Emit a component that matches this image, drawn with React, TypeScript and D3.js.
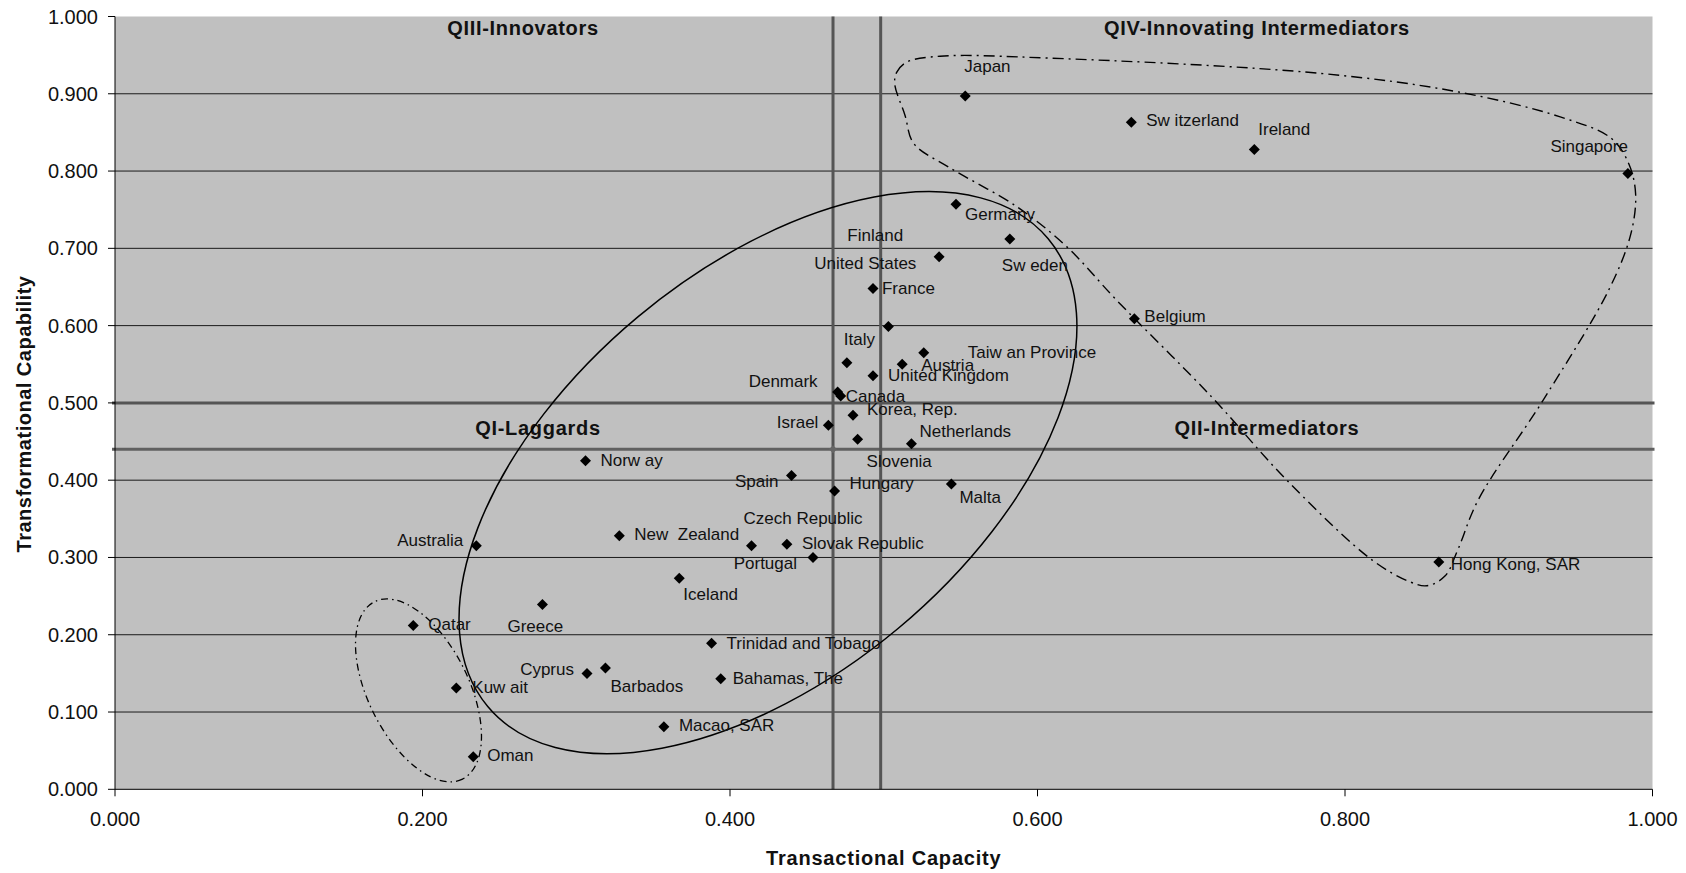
import React from "react";
import * as d3 from "d3";

// ---------- DATA ----------
const countries = [
  "Japan", "Switzerland", "Ireland", "Singapore", "Germany", "Sweden", "Finland", "France",
  "United States", "Belgium", "Taiwan Province", "Italy", "Austria", "United Kingdom", "Denmark",
  "Canada", "Korea, Rep.", "Israel", "Slovenia", "Netherlands", "Norway", "Spain", "Hungary",
  "Malta", "New Zealand", "Czech Republic", "Slovak Republic", "Portugal", "Australia", "Iceland",
  "Greece", "Qatar", "Cyprus", "Barbados", "Trinidad and Tobago", "Bahamas, The", "Kuwait",
  "Macao, SAR", "Oman", "Hong Kong, SAR",
];
// label text as printed in the chart
const labelText = [
  "Japan", "Sw itzerland", "Ireland", "Singapore", "Germany", "Sw eden", "Finland", "France",
  "United States", "Belgium", "Taiw an Province", "Italy", "Austria", "United Kingdom", "Denmark",
  "Canada", "Korea, Rep.", "Israel", "Slovenia", "Netherlands", "Norw ay", "Spain", "Hungary",
  "Malta", "New  Zealand", "Czech Republic", "Slovak Republic", "Portugal", "Australia", "Iceland",
  "Greece", "Qatar", "Cyprus", "Barbados", "Trinidad and Tobago", "Bahamas, The", "Kuw ait",
  "Macao, SAR", "Oman", "Hong Kong, SAR",
];
const transactional = [
  0.553, 0.661, 0.741, 0.984, 0.547, 0.582, 0.536, 0.493,
  0.503, 0.663, 0.526, 0.476, 0.512, 0.493, 0.470,
  0.472, 0.480, 0.464, 0.483, 0.518, 0.306, 0.440, 0.468,
  0.544, 0.328, 0.414, 0.437, 0.454, 0.235, 0.367,
  0.278, 0.194, 0.307, 0.319, 0.388, 0.394, 0.222,
  0.357, 0.233, 0.861,
];
const transformational = [
  0.897, 0.863, 0.828, 0.797, 0.757, 0.712, 0.689, 0.648,
  0.599, 0.609, 0.565, 0.552, 0.550, 0.535, 0.514,
  0.509, 0.484, 0.471, 0.453, 0.447, 0.425, 0.406, 0.386,
  0.395, 0.328, 0.315, 0.317, 0.300, 0.315, 0.273,
  0.239, 0.212, 0.150, 0.157, 0.189, 0.143, 0.131,
  0.081, 0.042, 0.294,
];
const tickValues = [0, 0.2, 0.4, 0.6, 0.8, 1.0];
const yTickValues = [0, 0.1, 0.2, 0.3, 0.4, 0.5, 0.6, 0.7, 0.8, 0.9, 1.0];
const meanTransactional = 0.467;
const meanTransformational = 0.44;
const thresholdTransactional = 0.498;
const thresholdTransformational = 0.5;

// QIV cluster outline (data units)
const clusterIV: [number, number][] = [
  [0.5071, 0.9133], [0.5085, 0.9280], [0.5150, 0.9410], [0.5366, 0.9486], [0.6081, 0.9461],
  [0.7844, 0.9263], [0.8733, 0.9025], [0.9400, 0.8701], [0.9733, 0.8422], [0.9845, 0.8098],
  [0.9890, 0.7710], [0.9860, 0.7193], [0.9720, 0.6480], [0.9289, 0.5036],
  [0.8866, 0.3743], [0.8733, 0.3096], [0.8650, 0.2759], [0.8533, 0.2634], [0.8421, 0.2686],
  [0.8177, 0.2966], [0.7621, 0.4001], [0.7132, 0.5079], [0.6514, 0.6330], [0.6191, 0.7019],
  [0.5867, 0.7537], [0.5420, 0.8054], [0.5195, 0.8357], [0.5138, 0.8723],
];

// ---------- LAYOUT ----------
const W = 1686, H = 873;
const left = 115, right = 1652.5, top = 16.5, bottom = 789.3;
const font = "'Liberation Sans', Arial, Helvetica, sans-serif";

// label offsets (px) relative to marker: dx, dy, anchor
const labelPlacement: [number, number, string][] = [
  [-1, -30, "start"], [15, -2, "start"], [4, -20, "start"], [0, -27, "end"], [9, 10, "start"],
  [-8, 26, "start"], [-36, -21, "end"], [9, 0, "start"], [28, -63, "end"], [10, -2, "start"],
  [44, 0, "start"], [-3, -23, "start"], [19, 1, "start"], [15, 0, "start"], [-20, -11, "end"],
  [5, 1, "start"], [14, -6, "start"], [-10, -3, "end"], [9, 22, "start"], [8, -12, "start"],
  [15, 0, "start"], [-13, 6, "end"], [15, -7, "start"], [8, 13, "start"], [15, -1, "start"],
  [-8, -27, "start"], [15, -1, "start"], [-16, 6, "end"], [-13, -5, "end"], [4, 16, "start"],
  [-35, 22, "start"], [15, -1, "start"], [-13, -4, "end"], [5, 19, "start"], [15, 0, "start"],
  [12, 0, "start"], [16, -1, "start"], [15, -1, "start"], [14, -1, "start"], [12, 2, "start"],
];

// ellipse annotations: centre in data units, semi-axes in px, rotation deg (screen)
const bigEllipse = { cx: 0.4247, cy: 0.4097, a: 365, b: 203, rot: -39.85 };
const smallEllipse = { cx: 0.1974, cy: 0.128, a: 99, b: 50.3, rot: 63.6 };

export default function App() {
  const x = d3.scaleLinear().domain([0, 1]).range([left, right]);
  const y = d3.scaleLinear().domain([0, 1]).range([bottom, top]);
  const fmt = d3.format(".3f");

  const outline = d3
    .line<[number, number]>()
    .x((d) => x(d[0]))
    .y((d) => y(d[1]))
    .curve(d3.curveCatmullRomClosed.alpha(0.5))(clusterIV) as string;

  const diamond = (cx: number, cy: number, r: number) =>
    `M${cx},${cy - r}L${cx + r},${cy}L${cx},${cy + r}L${cx - r},${cy}Z`;

  const quadLabel = (text: string, cx: number, cy: number) => (
    <text
      x={cx}
      y={cy}
      textAnchor="middle"
      dominantBaseline="central"
      fontFamily={font}
      fontWeight="bold"
      fontSize={20}
      letterSpacing={0.7}
      fill="#111"
    >
      {text}
    </text>
  );

  return (
    <svg
      width={W}
      height={H}
      style={{ position: "absolute", left: 0, top: 0, background: "#fff" }}
    >
      <rect x={0} y={0} width={W} height={H} fill="#fff" />
      <rect x={left} y={top} width={right - left} height={bottom - top} fill="#c0c0c0" />

      {/* gridlines */}
      {yTickValues.slice(1, -1).map((v) => (
        <line key={"g" + v} x1={left} x2={right} y1={y(v)} y2={y(v)} stroke="#1a1a1a" strokeWidth={1} />
      ))}

      {/* quadrant divider lines */}
      <line x1={left - 3} x2={right + 2} y1={y(thresholdTransformational)} y2={y(thresholdTransformational)} stroke="#555" strokeWidth={3} />
      <line x1={left - 3} x2={right + 2} y1={y(meanTransformational)} y2={y(meanTransformational)} stroke="#606060" strokeWidth={3} />
      <line x1={x(meanTransactional)} x2={x(meanTransactional)} y1={top} y2={bottom} stroke="#555" strokeWidth={3} />
      <line x1={x(thresholdTransactional)} x2={x(thresholdTransactional)} y1={top} y2={bottom} stroke="#555" strokeWidth={3} />
      <path d={diamond(x(meanTransactional), y(meanTransformational), 4)} fill="#666" />

      {/* axes */}
      <line x1={left} x2={left} y1={top} y2={bottom} stroke="#000" strokeWidth={1} />
      <line x1={left} x2={right} y1={bottom} y2={bottom} stroke="#000" strokeWidth={1} />
      {yTickValues.map((v) => (
        <g key={"yt" + v}>
          <line x1={left - 7} x2={left} y1={y(v)} y2={y(v)} stroke="#000" />
          <text x={left - 17} y={y(v)} textAnchor="end" dominantBaseline="central" fontFamily={font} fontSize={20} fill="#111">
            {fmt(v)}
          </text>
        </g>
      ))}
      {tickValues.map((v) => (
        <g key={"xt" + v}>
          <line x1={x(v)} x2={x(v)} y1={bottom} y2={bottom + 7} stroke="#000" />
          <text x={x(v)} y={bottom + 30} textAnchor="middle" dominantBaseline="central" fontFamily={font} fontSize={20} fill="#111">
            {fmt(v)}
          </text>
        </g>
      ))}

      {/* axis titles */}
      <text x={(left + right) / 2} y={858} textAnchor="middle" dominantBaseline="central" fontFamily={font} fontWeight="bold" fontSize={20} letterSpacing={0.8} fill="#111">
        Transactional Capacity
      </text>
      <text
        transform={`translate(24,414) rotate(-90)`}
        textAnchor="middle"
        dominantBaseline="central"
        fontFamily={font}
        fontWeight="bold"
        fontSize={20}
        letterSpacing={0.5}
        fill="#111"
      >
        Transformational Capability
      </text>

      {/* quadrant labels */}
      {quadLabel("QIII-Innovators", 523, 28)}
      {quadLabel("QIV-Innovating Intermediators", 1257, 28)}
      {quadLabel("QI-Laggards", 538, 428)}
      {quadLabel("QII-Intermediators", 1267, 428)}

      {/* cluster annotations */}
      <ellipse
        cx={0}
        cy={0}
        rx={bigEllipse.a}
        ry={bigEllipse.b}
        transform={`translate(${x(bigEllipse.cx)},${y(bigEllipse.cy)}) rotate(${bigEllipse.rot})`}
        fill="none"
        stroke="#000"
        strokeWidth={1.5}
      />
      <ellipse
        cx={0}
        cy={0}
        rx={smallEllipse.a}
        ry={smallEllipse.b}
        transform={`translate(${x(smallEllipse.cx)},${y(smallEllipse.cy)}) rotate(${smallEllipse.rot})`}
        fill="none"
        stroke="#000"
        strokeWidth={1.3}
        strokeDasharray="7,4,1.5,4"
      />
      <path d={outline} fill="none" stroke="#000" strokeWidth={1.4} strokeDasharray="11,5,2,5" />

      {/* points */}
      {countries.map((c, i) => (
        <path key={"p" + c} d={diamond(x(transactional[i]), y(transformational[i]), 5.5)} fill="#000" />
      ))}

      {/* labels */}
      {countries.map((c, i) => {
        const [dx, dy, anchor] = labelPlacement[i];
        return (
          <text
            key={"l" + c}
            x={x(transactional[i]) + dx}
            y={y(transformational[i]) + dy}
            textAnchor={anchor as any}
            dominantBaseline="central"
            fontFamily={font}
            fontSize={17}
            fill="#111"
            style={{ whiteSpace: "pre" }}
          >
            {labelText[i]}
          </text>
        );
      })}
    </svg>
  );
}
